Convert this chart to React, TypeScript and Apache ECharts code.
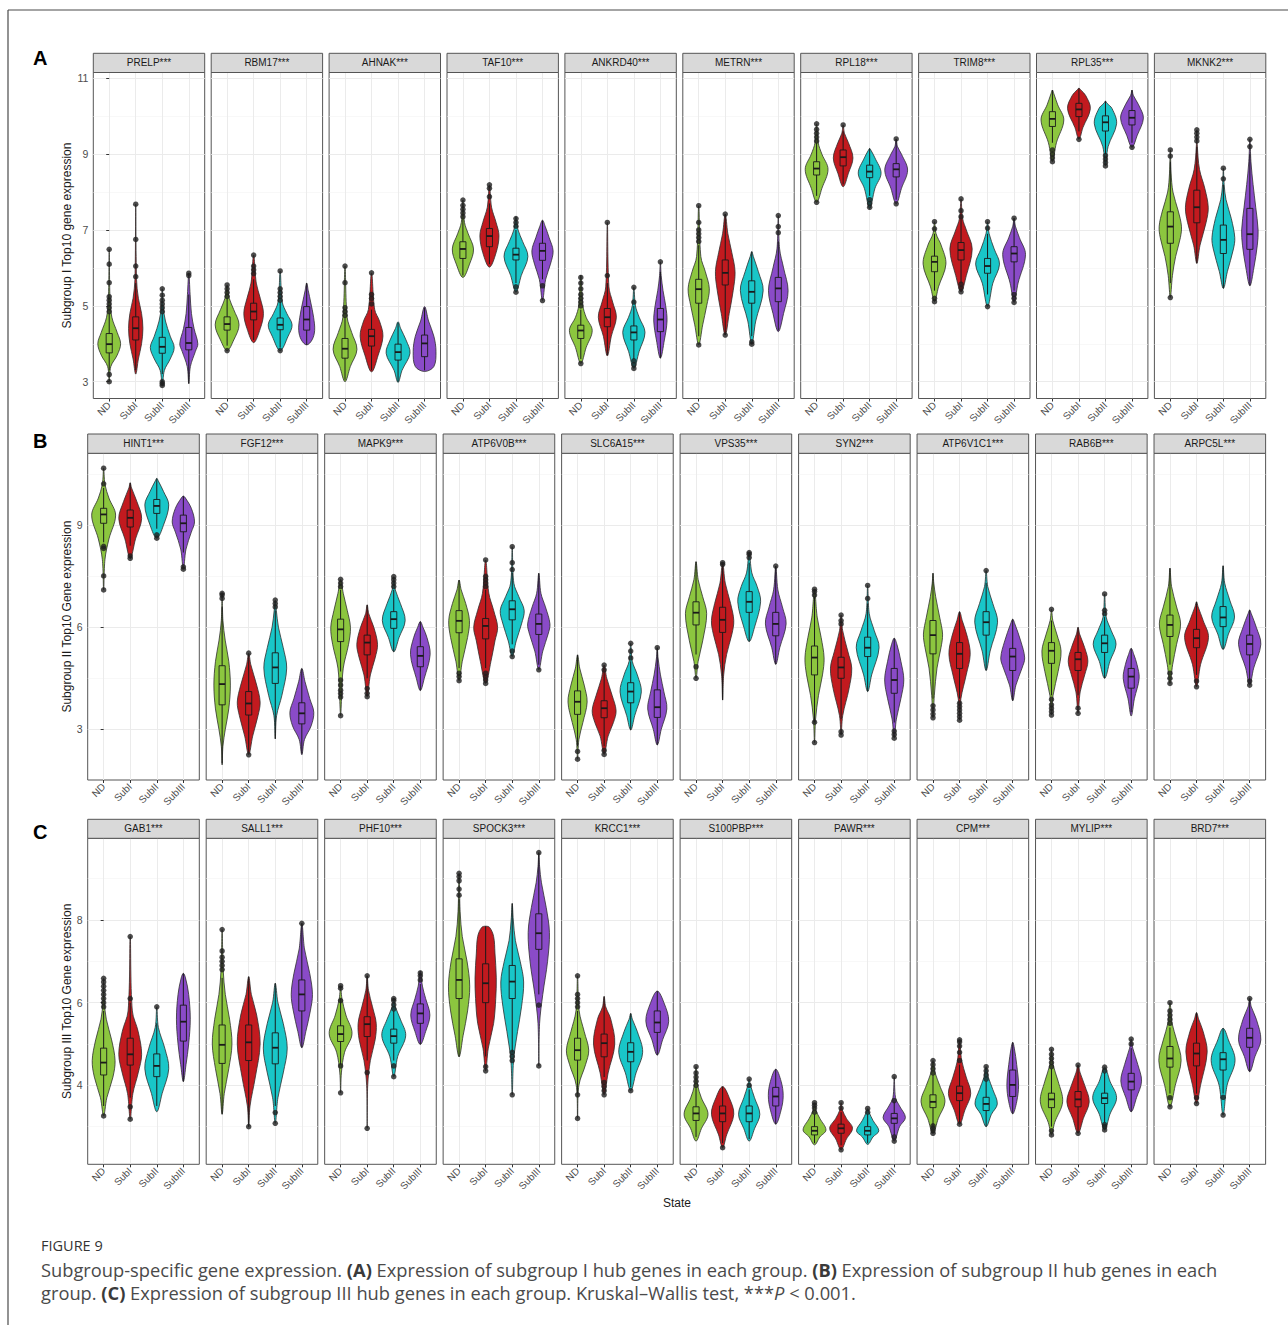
import React, { useEffect, useRef } from 'react';
import * as echarts from 'echarts';

// ---------- data ----------
const groups = ['ND', 'SubI', 'SubII', 'SubIII'];
const groupColors = ['#8cc63f', '#c21a1f', '#19c6c8', '#8a4bc8'];

// Violin outlines: [value, half-width in category units]; boxes: [whiskerLow, q1, median, q3, whiskerHigh]
const genesA = ['PRELP', 'RBM17', 'AHNAK', 'TAF10', 'ANKRD40', 'METRN', 'RPL18', 'TRIM8', 'RPL35', 'MKNK2'];
const shapesA = [
  [
    [[3.0, 0], [3.4, 0.06], [3.7, 0.3], [4.0, 0.43], [4.3, 0.3], [4.7, 0.1], [5.2, 0.03], [6.49, 0]],
    [[3.2, 0], [3.6, 0.1], [4.0, 0.22], [4.4, 0.27], [4.8, 0.22], [5.2, 0.1], [5.7, 0.03], [7.68, 0]],
    [[2.9, 0], [3.3, 0.08], [3.6, 0.3], [3.9, 0.45], [4.2, 0.3], [4.6, 0.12], [5.0, 0.03], [5.45, 0]],
    [[2.95, 0], [3.4, 0.06], [3.8, 0.25], [4.0, 0.34], [4.4, 0.2], [4.8, 0.1], [5.3, 0.05], [5.86, 0]],
  ],
  [
    [[3.82, 0], [4.1, 0.25], [4.5, 0.45], [4.9, 0.25], [5.2, 0.08], [5.55, 0]],
    [[4.03, 0], [4.4, 0.25], [4.8, 0.37], [5.2, 0.25], [5.6, 0.1], [6.34, 0]],
    [[3.82, 0], [4.2, 0.3], [4.5, 0.45], [4.8, 0.25], [5.1, 0.08], [5.92, 0]],
    [[3.97, 0], [4.1, 0.2], [4.35, 0.3], [4.7, 0.26], [5.1, 0.15], [5.4, 0.06], [5.6, 0]],
  ],
  [
    [[3.0, 0], [3.4, 0.2], [3.85, 0.45], [4.3, 0.25], [4.7, 0.08], [6.05, 0]],
    [[3.26, 0], [3.7, 0.25], [4.2, 0.43], [4.6, 0.3], [4.9, 0.12], [5.87, 0]],
    [[2.98, 0], [3.3, 0.15], [3.75, 0.45], [4.1, 0.3], [4.4, 0.1], [4.58, 0]],
    [[3.27, 0], [3.4, 0.35], [3.8, 0.43], [4.2, 0.35], [4.6, 0.15], [4.98, 0]],
  ],
  [
    [[5.75, 0], [6.1, 0.25], [6.5, 0.4], [6.9, 0.2], [7.2, 0.06], [7.79, 0]],
    [[6.02, 0], [6.4, 0.25], [6.85, 0.36], [7.2, 0.25], [7.6, 0.08], [8.19, 0]],
    [[5.36, 0], [5.8, 0.2], [6.3, 0.45], [6.7, 0.25], [7.0, 0.08], [7.35, 0]],
    [[5.14, 0], [5.7, 0.12], [6.1, 0.3], [6.45, 0.4], [6.8, 0.25], [7.1, 0.1], [7.26, 0]],
  ],
  [
    [[3.48, 0], [3.9, 0.2], [4.35, 0.43], [4.7, 0.2], [5.0, 0.08], [5.81, 0]],
    [[3.68, 0], [4.2, 0.15], [4.7, 0.34], [5.1, 0.2], [5.5, 0.06], [7.2, 0]],
    [[3.35, 0], [3.8, 0.2], [4.3, 0.42], [4.7, 0.2], [5.0, 0.06], [5.49, 0]],
    [[3.62, 0], [4.1, 0.15], [4.6, 0.25], [5.0, 0.2], [5.4, 0.1], [5.8, 0.03], [6.16, 0]],
  ],
  [
    [[3.97, 0], [4.5, 0.15], [5.0, 0.3], [5.45, 0.4], [5.9, 0.25], [6.3, 0.08], [7.64, 0]],
    [[4.23, 0], [4.8, 0.15], [5.4, 0.3], [5.9, 0.37], [6.4, 0.25], [6.9, 0.1], [7.42, 0]],
    [[3.99, 0], [4.6, 0.15], [5.4, 0.43], [5.9, 0.25], [6.3, 0.06], [6.43, 0]],
    [[4.32, 0], [4.8, 0.2], [5.4, 0.37], [6.0, 0.2], [6.5, 0.05], [7.38, 0]],
  ],
  [
    [[7.73, 0], [8.1, 0.2], [8.6, 0.43], [9.0, 0.2], [9.3, 0.06], [9.8, 0]],
    [[8.14, 0], [8.5, 0.2], [8.9, 0.37], [9.3, 0.2], [9.55, 0.05], [9.77, 0]],
    [[7.57, 0], [8.1, 0.2], [8.5, 0.43], [8.9, 0.2], [9.1, 0.05], [9.15, 0]],
    [[7.69, 0], [8.1, 0.2], [8.58, 0.43], [9.0, 0.2], [9.2, 0.05], [9.4, 0]],
  ],
  [
    [[5.11, 0], [5.5, 0.15], [6.1, 0.43], [6.6, 0.25], [6.9, 0.06], [7.22, 0]],
    [[5.37, 0], [5.8, 0.2], [6.5, 0.42], [7.0, 0.2], [7.3, 0.06], [7.82, 0]],
    [[4.98, 0], [5.6, 0.2], [6.1, 0.45], [6.5, 0.25], [6.9, 0.06], [7.22, 0]],
    [[5.09, 0], [5.6, 0.15], [6.35, 0.43], [6.8, 0.2], [7.1, 0.05], [7.31, 0]],
  ],
  [
    [[8.8, 0], [9.3, 0.15], [9.9, 0.43], [10.3, 0.2], [10.6, 0.05], [10.69, 0]],
    [[9.39, 0], [9.7, 0.15], [10.2, 0.43], [10.55, 0.25], [10.7, 0.06], [10.74, 0]],
    [[8.69, 0], [9.2, 0.1], [9.8, 0.42], [10.2, 0.25], [10.35, 0.05], [10.4, 0]],
    [[9.18, 0], [9.5, 0.2], [9.95, 0.43], [10.3, 0.25], [10.55, 0.05], [10.69, 0]],
  ],
  [
    [[5.22, 0], [5.8, 0.08], [6.3, 0.2], [6.8, 0.38], [7.1, 0.42], [7.5, 0.3], [8.0, 0.1], [8.5, 0.03], [9.11, 0]],
    [[6.12, 0], [6.6, 0.12], [7.2, 0.35], [7.6, 0.43], [8.1, 0.3], [8.6, 0.1], [9.2, 0.02], [9.64, 0]],
    [[5.46, 0], [5.9, 0.15], [6.5, 0.38], [6.8, 0.43], [7.3, 0.3], [7.8, 0.1], [8.2, 0.03], [8.63, 0]],
    [[5.53, 0], [6.0, 0.15], [6.6, 0.28], [7.0, 0.31], [7.6, 0.22], [8.2, 0.12], [8.8, 0.04], [9.39, 0]],
  ],
];
const boxesA = [
  [[3.3, 3.76, 3.99, 4.27, 4.8], [3.3, 4.1, 4.41, 4.71, 5.6], [3.2, 3.75, 3.92, 4.17, 4.8], [2.95, 3.84, 4.02, 4.43, 5.3]],
  [[3.95, 4.36, 4.52, 4.71, 5.2], [4.1, 4.63, 4.85, 5.07, 5.7], [3.9, 4.37, 4.5, 4.68, 5.1], [3.97, 4.36, 4.64, 4.98, 5.6]],
  [[3.05, 3.62, 3.87, 4.14, 4.7], [3.3, 3.94, 4.2, 4.38, 4.9], [3.0, 3.57, 3.78, 3.99, 4.55], [3.3, 3.66, 4.01, 4.23, 4.95]],
  [[5.8, 6.25, 6.5, 6.69, 7.3], [6.1, 6.56, 6.84, 7.04, 7.7], [5.6, 6.21, 6.35, 6.52, 7.0], [5.7, 6.2, 6.45, 6.65, 7.25]],
  [[3.6, 4.14, 4.35, 4.49, 4.9], [3.7, 4.45, 4.7, 4.93, 5.6], [3.6, 4.1, 4.3, 4.47, 5.0], [3.62, 4.32, 4.64, 4.93, 5.9]],
  [[4.2, 5.07, 5.44, 5.7, 6.6], [4.23, 5.55, 5.87, 6.21, 7.42], [4.2, 5.07, 5.37, 5.66, 6.43], [4.35, 5.11, 5.46, 5.75, 6.7]],
  [[7.9, 8.45, 8.62, 8.8, 9.3], [8.2, 8.69, 8.92, 9.11, 9.6], [7.9, 8.38, 8.54, 8.71, 9.15], [7.8, 8.4, 8.6, 8.75, 9.4]],
  [[5.4, 5.9, 6.16, 6.31, 6.9], [5.6, 6.21, 6.47, 6.67, 7.3], [5.3, 5.86, 6.05, 6.25, 6.9], [5.4, 6.16, 6.38, 6.56, 7.31]],
  [[9.3, 9.73, 9.93, 10.12, 10.69], [9.6, 9.99, 10.18, 10.34, 10.74], [9.0, 9.61, 9.84, 10.01, 10.4], [9.3, 9.77, 9.96, 10.15, 10.69]],
  [[5.6, 6.65, 7.09, 7.48, 8.8], [6.12, 7.19, 7.6, 8.05, 9.2], [5.46, 6.38, 6.74, 7.13, 8.2], [5.53, 6.49, 6.89, 7.57, 9.0]],
];
const outliersA = [
  [[3.0, 3.19, 4.85, 4.95, 5.05, 5.15, 5.24, 5.61, 6.1, 6.49], [5.77, 6.05, 6.75, 7.68], [2.9, 2.95, 3.0, 4.85, 4.95, 5.05, 5.15, 5.28, 5.45], [5.8, 5.86]],
  [[3.82, 5.25, 5.35, 5.45, 5.55], [5.85, 5.95, 6.05, 6.34], [3.82, 5.15, 5.25, 5.35, 5.45, 5.92], []],
  [[4.75, 4.85, 4.95, 5.61, 6.05], [5.05, 5.2, 5.3, 5.87], [], []],
  [[7.35, 7.45, 7.55, 7.65, 7.79], [7.88, 8.1, 8.19], [5.36, 5.5, 7.1, 7.2, 7.3], [5.14, 5.53]],
  [[3.48, 5.0, 5.1, 5.2, 5.3, 5.45, 5.6, 5.75], [5.8, 7.2], [3.35, 3.45, 3.55, 5.1, 5.49], [6.16]],
  [[3.97, 6.7, 6.8, 6.9, 7.0, 7.2, 7.64], [4.23, 7.42], [3.99, 4.05], [6.93, 7.09, 7.38]],
  [[7.73, 9.35, 9.45, 9.55, 9.65, 9.8], [9.77], [7.6, 7.7, 7.8], [7.69, 9.4]],
  [[5.11, 5.2, 7.03, 7.22], [5.37, 5.47, 5.57, 7.35, 7.51, 7.82], [4.98, 7.05, 7.22], [5.09, 5.2, 5.3, 7.31]],
  [[8.8, 8.9, 9.0, 9.11], [9.39], [8.69, 8.78, 8.87, 8.96], [9.18]],
  [[5.22, 8.95, 9.11], [9.35, 9.45, 9.55, 9.64], [8.35, 8.63], [9.2, 9.39]],
];

const genesB = ['HINT1', 'FGF12', 'MAPK9', 'ATP6V0B', 'SLC6A15', 'VPS35', 'SYN2', 'ATP6V1C1', 'RAB6B', 'ARPC5L'];
const shapesB = [
  [
    [[7.1, 0], [8.0, 0.05], [8.6, 0.2], [9.3, 0.45], [9.8, 0.2], [10.2, 0.05], [10.68, 0]],
    [[8.03, 0], [8.6, 0.2], [9.2, 0.43], [9.7, 0.25], [10.1, 0.05], [10.25, 0]],
    [[8.62, 0], [9.0, 0.25], [9.6, 0.45], [10.0, 0.25], [10.3, 0.06], [10.38, 0]],
    [[7.71, 0], [8.3, 0.1], [8.8, 0.3], [9.1, 0.42], [9.5, 0.3], [9.8, 0.08], [9.86, 0]],
  ],
  [
    [[1.95, 0], [2.5, 0.03], [3.0, 0.12], [3.6, 0.25], [4.3, 0.31], [5.0, 0.25], [5.6, 0.12], [6.2, 0.03], [7.0, 0]],
    [[2.25, 0], [2.8, 0.15], [3.4, 0.35], [3.8, 0.43], [4.3, 0.3], [4.9, 0.08], [5.24, 0]],
    [[2.72, 0], [3.4, 0.05], [4.0, 0.25], [4.8, 0.43], [5.4, 0.3], [6.0, 0.12], [6.5, 0.04], [6.8, 0]],
    [[2.25, 0], [2.7, 0.1], [3.1, 0.35], [3.5, 0.45], [3.9, 0.3], [4.4, 0.12], [4.79, 0]],
  ],
  [
    [[3.4, 0], [4.0, 0.04], [4.8, 0.1], [5.5, 0.3], [6.0, 0.37], [6.5, 0.25], [7.0, 0.1], [7.41, 0]],
    [[3.96, 0], [4.6, 0.12], [5.1, 0.3], [5.5, 0.39], [6.0, 0.25], [6.4, 0.06], [6.66, 0]],
    [[5.28, 0], [5.7, 0.2], [6.2, 0.43], [6.7, 0.25], [7.1, 0.06], [7.49, 0]],
    [[4.14, 0], [4.5, 0.15], [5.2, 0.37], [5.7, 0.25], [6.0, 0.1], [6.17, 0]],
  ],
  [
    [[4.43, 0], [5.0, 0.12], [5.7, 0.32], [6.2, 0.39], [6.7, 0.25], [7.1, 0.08], [7.39, 0]],
    [[4.35, 0], [5.0, 0.2], [5.6, 0.35], [6.0, 0.45], [6.5, 0.3], [7.0, 0.12], [7.98, 0]],
    [[5.14, 0], [5.6, 0.15], [6.1, 0.35], [6.5, 0.45], [6.9, 0.25], [7.3, 0.06], [8.37, 0]],
    [[4.75, 0], [5.3, 0.15], [5.8, 0.35], [6.1, 0.42], [6.6, 0.25], [7.0, 0.08], [7.59, 0]],
  ],
  [
    [[2.12, 0], [2.7, 0.05], [3.2, 0.2], [3.8, 0.36], [4.3, 0.25], [4.8, 0.08], [5.19, 0]],
    [[2.26, 0], [2.8, 0.15], [3.2, 0.35], [3.55, 0.45], [4.0, 0.3], [4.5, 0.1], [4.89, 0]],
    [[2.98, 0], [3.4, 0.15], [4.1, 0.4], [4.6, 0.25], [5.0, 0.06], [5.53, 0]],
    [[2.54, 0], [3.0, 0.15], [3.6, 0.36], [4.1, 0.25], [4.6, 0.12], [5.1, 0.03], [5.4, 0]],
  ],
  [
    [[4.5, 0], [5.0, 0.08], [5.6, 0.25], [6.4, 0.4], [6.9, 0.25], [7.4, 0.08], [7.93, 0]],
    [[3.86, 0], [4.6, 0.04], [5.2, 0.15], [5.8, 0.35], [6.2, 0.42], [6.7, 0.3], [7.3, 0.1], [7.9, 0]],
    [[5.58, 0], [6.0, 0.2], [6.75, 0.43], [7.2, 0.3], [7.6, 0.1], [8.2, 0]],
    [[4.91, 0], [5.4, 0.15], [6.1, 0.39], [6.6, 0.25], [7.1, 0.08], [7.8, 0]],
  ],
  [
    [[2.61, 0], [3.3, 0.04], [4.0, 0.15], [4.6, 0.3], [5.1, 0.36], [5.7, 0.25], [6.3, 0.1], [7.12, 0]],
    [[2.83, 0], [3.4, 0.06], [4.2, 0.3], [4.8, 0.4], [5.3, 0.25], [5.9, 0.06], [6.36, 0]],
    [[4.11, 0], [4.6, 0.15], [5.4, 0.43], [5.9, 0.25], [6.4, 0.06], [7.23, 0]],
    [[2.74, 0], [3.3, 0.08], [3.9, 0.25], [4.45, 0.36], [5.0, 0.25], [5.5, 0.1], [5.68, 0]],
  ],
  [
    [[3.34, 0], [4.0, 0.05], [4.8, 0.15], [5.4, 0.3], [5.8, 0.36], [6.3, 0.25], [6.9, 0.1], [7.3, 0.03], [7.59, 0]],
    [[3.27, 0], [3.9, 0.05], [4.6, 0.25], [5.2, 0.4], [5.7, 0.3], [6.2, 0.1], [6.46, 0]],
    [[4.73, 0], [5.3, 0.15], [6.15, 0.43], [6.7, 0.25], [7.2, 0.06], [7.67, 0]],
    [[3.84, 0], [4.3, 0.12], [4.8, 0.35], [5.1, 0.45], [5.6, 0.3], [6.1, 0.08], [6.24, 0]],
  ],
  [
    [[3.42, 0], [4.0, 0.06], [4.7, 0.25], [5.3, 0.36], [5.8, 0.2], [6.2, 0.05], [6.53, 0]],
    [[3.47, 0], [4.1, 0.08], [4.6, 0.25], [5.0, 0.37], [5.4, 0.25], [5.8, 0.06], [6.0, 0]],
    [[4.5, 0], [5.0, 0.2], [5.5, 0.43], [5.9, 0.25], [6.3, 0.06], [6.98, 0]],
    [[3.39, 0], [3.9, 0.12], [4.5, 0.3], [4.9, 0.22], [5.2, 0.1], [5.38, 0]],
  ],
  [
    [[4.35, 0], [4.9, 0.1], [5.5, 0.25], [6.1, 0.4], [6.6, 0.25], [7.2, 0.06], [7.74, 0]],
    [[4.25, 0], [4.9, 0.15], [5.7, 0.45], [6.2, 0.25], [6.6, 0.06], [6.75, 0]],
    [[5.35, 0], [5.8, 0.2], [6.3, 0.43], [6.8, 0.25], [7.3, 0.06], [7.81, 0]],
    [[4.3, 0], [4.8, 0.15], [5.5, 0.42], [6.0, 0.25], [6.4, 0.06], [6.51, 0]],
  ],
];
const boxesB = [
  [[8.5, 9.06, 9.32, 9.5, 10.1], [8.4, 8.95, 9.22, 9.45, 10.25], [8.9, 9.35, 9.57, 9.76, 10.38], [8.2, 8.81, 9.06, 9.3, 9.86]],
  [[2.0, 3.72, 4.33, 4.87, 6.6], [2.3, 3.42, 3.76, 4.11, 5.2], [2.72, 4.35, 4.82, 5.25, 6.5], [2.29, 3.16, 3.47, 3.78, 4.79]],
  [[4.7, 5.58, 5.94, 6.24, 7.1], [4.5, 5.19, 5.55, 5.77, 6.66], [5.28, 5.97, 6.24, 6.46, 7.1], [4.14, 4.84, 5.16, 5.43, 6.17]],
  [[4.8, 5.84, 6.19, 6.49, 7.39], [4.8, 5.66, 6.04, 6.26, 7.1], [5.5, 6.22, 6.53, 6.78, 7.6], [4.9, 5.79, 6.1, 6.39, 7.59]],
  [[2.5, 3.44, 3.81, 4.13, 5.19], [2.5, 3.34, 3.62, 3.84, 4.7], [2.98, 3.78, 4.11, 4.37, 5.0], [2.54, 3.35, 3.65, 4.16, 5.4]],
  [[5.2, 6.07, 6.43, 6.75, 7.93], [3.86, 5.85, 6.22, 6.59, 7.8], [5.58, 6.44, 6.75, 7.05, 7.9], [4.91, 5.75, 6.1, 6.44, 7.8]],
  [[3.2, 4.6, 5.11, 5.45, 6.9], [3.3, 4.5, 4.82, 5.12, 6.0], [4.11, 5.14, 5.4, 5.71, 6.7], [3.2, 4.06, 4.45, 4.79, 5.68]],
  [[3.9, 5.22, 5.77, 6.2, 7.59], [3.9, 4.79, 5.22, 5.55, 6.46], [4.73, 5.77, 6.15, 6.46, 7.3], [3.84, 4.73, 5.14, 5.38, 6.24]],
  [[4.0, 4.94, 5.31, 5.55, 6.2], [4.0, 4.73, 5.06, 5.26, 6.0], [4.5, 5.26, 5.53, 5.77, 6.3], [3.5, 4.21, 4.55, 4.79, 5.38]],
  [[4.9, 5.73, 6.07, 6.36, 7.74], [4.6, 5.4, 5.68, 5.94, 6.75], [5.35, 6.02, 6.29, 6.61, 7.81], [4.4, 5.19, 5.51, 5.77, 6.51]],
];
const outliersB = [
  [[7.1, 7.51, 8.32, 8.38, 10.22, 10.68], [8.03, 8.1], [8.62, 8.72], [7.71, 7.78]],
  [[6.85, 6.95, 7.0], [2.25, 5.24], [6.6, 6.7, 6.8], []],
  [[3.4, 3.95, 4.05, 4.15, 4.3, 4.45, 7.2, 7.3, 7.41], [3.96, 4.06, 4.2], [7.2, 7.3, 7.4, 7.49], []],
  [[4.43, 4.55, 4.65], [4.35, 4.45, 4.55, 4.65, 7.2, 7.3, 7.4, 7.5, 7.98], [5.14, 5.3, 7.7, 7.9, 8.37], [4.75]],
  [[2.12, 2.35], [2.26, 2.38, 4.75, 4.89], [5.1, 5.3, 5.53], [5.4]],
  [[4.5, 4.84], [7.85, 7.9], [8.05, 8.15, 8.2], [7.8]],
  [[2.61, 3.21, 6.95, 7.05, 7.12], [2.83, 2.93, 6.1, 6.2, 6.36], [6.85, 7.23], [2.74, 2.85, 2.95]],
  [[3.34, 3.45, 3.57, 3.69], [3.27, 3.37, 3.47, 3.57, 3.67, 3.77], [7.67], []],
  [[3.42, 3.52, 3.62, 3.72, 3.88, 6.53], [3.47, 3.62], [6.4, 6.5, 6.98], []],
  [[4.35, 4.5, 4.65], [4.25, 4.42], [], [4.3, 4.42]],
];

const genesC = ['GAB1', 'SALL1', 'PHF10', 'SPOCK3', 'KRCC1', 'S100PBP', 'PAWR', 'CPM', 'MYLIP', 'BRD7'];
const shapesC = [
  [
    [[3.26, 0], [3.7, 0.12], [4.2, 0.35], [4.6, 0.43], [5.1, 0.3], [5.6, 0.1], [6.0, 0.03], [6.59, 0]],
    [[3.18, 0], [3.8, 0.1], [4.3, 0.3], [4.75, 0.43], [5.3, 0.3], [5.8, 0.08], [7.6, 0]],
    [[3.36, 0], [3.8, 0.2], [4.4, 0.45], [4.9, 0.3], [5.4, 0.06], [5.9, 0]],
    [[4.09, 0], [4.5, 0.1], [5.0, 0.2], [5.6, 0.26], [6.2, 0.2], [6.6, 0.08], [6.71, 0]],
  ],
  [
    [[3.3, 0], [3.8, 0.08], [4.4, 0.25], [5.0, 0.37], [5.6, 0.28], [6.2, 0.12], [6.8, 0.04], [7.77, 0]],
    [[3.0, 0], [3.5, 0.05], [4.2, 0.25], [5.0, 0.43], [5.7, 0.3], [6.2, 0.1], [6.63, 0]],
    [[3.08, 0], [3.7, 0.1], [4.3, 0.3], [4.9, 0.45], [5.5, 0.3], [6.0, 0.1], [6.47, 0]],
    [[4.91, 0], [5.3, 0.15], [5.8, 0.32], [6.2, 0.4], [6.7, 0.3], [7.3, 0.1], [7.92, 0]],
  ],
  [
    [[3.82, 0], [4.3, 0.03], [4.8, 0.15], [5.25, 0.43], [5.7, 0.2], [6.1, 0.05], [6.41, 0]],
    [[2.96, 0], [4.0, 0.02], [4.6, 0.12], [5.1, 0.3], [5.5, 0.34], [5.9, 0.2], [6.3, 0.05], [6.65, 0]],
    [[4.21, 0], [4.7, 0.15], [5.2, 0.45], [5.6, 0.25], [5.9, 0.06], [6.1, 0]],
    [[4.99, 0], [5.3, 0.2], [5.7, 0.36], [6.1, 0.2], [6.4, 0.08], [6.77, 0]],
  ],
  [
    [[4.69, 0], [5.2, 0.15], [5.8, 0.32], [6.4, 0.4], [7.0, 0.3], [7.6, 0.12], [8.2, 0.04], [9.13, 0]],
    [[4.35, 0], [4.9, 0.1], [5.5, 0.3], [6.1, 0.38], [6.6, 0.4], [7.2, 0.35], [7.6, 0.3], [7.82, 0.15], [7.85, 0]],
    [[3.77, 0], [4.6, 0.05], [5.3, 0.2], [5.9, 0.35], [6.5, 0.43], [7.0, 0.3], [7.5, 0.12], [8.0, 0.04], [8.4, 0]],
    [[4.47, 0], [5.5, 0.03], [6.2, 0.15], [7.0, 0.33], [7.7, 0.4], [8.3, 0.28], [8.9, 0.1], [9.3, 0.03], [9.63, 0]],
  ],
  [
    [[3.2, 0], [4.0, 0.05], [4.5, 0.3], [4.85, 0.42], [5.3, 0.25], [5.8, 0.06], [6.65, 0]],
    [[3.77, 0], [4.3, 0.15], [5.0, 0.4], [5.6, 0.25], [5.9, 0.06], [6.15, 0]],
    [[3.87, 0], [4.3, 0.2], [4.8, 0.45], [5.3, 0.25], [5.6, 0.06], [5.74, 0]],
    [[4.73, 0], [5.1, 0.2], [5.55, 0.43], [6.0, 0.25], [6.28, 0]],
  ],
  [
    [[2.65, 0], [2.95, 0.2], [3.3, 0.45], [3.7, 0.2], [4.0, 0.06], [4.45, 0]],
    [[2.49, 0], [2.8, 0.15], [3.3, 0.42], [3.7, 0.25], [3.97, 0]],
    [[2.65, 0], [2.95, 0.2], [3.3, 0.4], [3.7, 0.2], [4.0, 0.05], [4.15, 0]],
    [[3.06, 0], [3.4, 0.2], [3.75, 0.28], [4.1, 0.2], [4.39, 0]],
  ],
  [
    [[2.56, 0], [2.75, 0.2], [2.92, 0.43], [3.2, 0.2], [3.4, 0.05], [3.58, 0]],
    [[2.44, 0], [2.7, 0.2], [2.96, 0.43], [3.2, 0.2], [3.4, 0.05], [3.58, 0]],
    [[2.57, 0], [2.75, 0.2], [2.9, 0.42], [3.15, 0.2], [3.35, 0.05], [3.44, 0]],
    [[2.65, 0], [3.0, 0.2], [3.22, 0.42], [3.5, 0.2], [3.7, 0.05], [4.21, 0]],
  ],
  [
    [[2.84, 0], [3.2, 0.2], [3.6, 0.45], [4.0, 0.25], [4.3, 0.08], [4.6, 0]],
    [[3.06, 0], [3.4, 0.2], [3.8, 0.42], [4.2, 0.25], [4.6, 0.08], [5.1, 0]],
    [[3.0, 0], [3.3, 0.2], [3.55, 0.42], [3.9, 0.25], [4.2, 0.08], [4.45, 0]],
    [[3.31, 0], [3.6, 0.15], [4.0, 0.22], [4.5, 0.15], [4.9, 0.06], [5.04, 0]],
  ],
  [
    [[2.8, 0], [3.1, 0.12], [3.6, 0.42], [4.1, 0.25], [4.5, 0.06], [4.87, 0]],
    [[2.84, 0], [3.2, 0.2], [3.6, 0.42], [4.0, 0.25], [4.3, 0.08], [4.49, 0]],
    [[2.92, 0], [3.3, 0.2], [3.7, 0.45], [4.1, 0.2], [4.44, 0]],
    [[3.36, 0], [3.7, 0.2], [4.1, 0.39], [4.5, 0.25], [4.9, 0.06], [5.12, 0]],
  ],
  [
    [[3.48, 0], [4.0, 0.2], [4.6, 0.42], [5.1, 0.25], [5.5, 0.08], [6.0, 0]],
    [[3.56, 0], [4.0, 0.15], [4.8, 0.4], [5.3, 0.25], [5.6, 0.08], [5.76, 0]],
    [[3.28, 0], [4.0, 0.15], [4.6, 0.45], [5.1, 0.2], [5.38, 0]],
    [[4.33, 0], [4.7, 0.2], [5.1, 0.42], [5.6, 0.25], [5.9, 0.06], [6.1, 0]],
  ],
];
const boxesC = [
  [[3.5, 4.25, 4.55, 4.9, 5.8], [3.7, 4.49, 4.75, 5.14, 6.0], [3.5, 4.21, 4.47, 4.76, 5.5], [4.09, 5.07, 5.54, 5.94, 6.71]],
  [[3.3, 4.53, 4.98, 5.46, 6.6], [3.0, 4.6, 5.04, 5.46, 6.63], [3.5, 4.52, 4.91, 5.27, 6.47], [4.91, 5.8, 6.2, 6.55, 7.92]],
  [[4.5, 5.06, 5.24, 5.44, 6.1], [4.6, 5.18, 5.48, 5.66, 6.65], [4.6, 5.02, 5.19, 5.36, 5.8], [4.99, 5.5, 5.74, 5.97, 6.45]],
  [[4.69, 6.1, 6.55, 7.06, 8.5], [4.7, 6.0, 6.47, 6.94, 7.85], [4.8, 6.1, 6.51, 6.9, 8.4], [6.2, 7.29, 7.68, 8.15, 9.63]],
  [[3.8, 4.61, 4.85, 5.14, 5.8], [4.2, 4.69, 5.02, 5.24, 6.15], [3.95, 4.57, 4.81, 5.03, 5.74], [4.73, 5.28, 5.52, 5.8, 6.28]],
  [[2.75, 3.15, 3.32, 3.48, 3.95], [2.6, 3.12, 3.32, 3.5, 3.97], [2.7, 3.12, 3.32, 3.5, 3.9], [3.06, 3.5, 3.73, 3.95, 4.39]],
  [[2.6, 2.8, 2.9, 3.0, 3.3], [2.55, 2.84, 2.96, 3.06, 3.35], [2.6, 2.8, 2.9, 3.0, 3.3], [2.8, 3.08, 3.2, 3.32, 3.6]],
  [[3.0, 3.46, 3.6, 3.77, 4.25], [3.1, 3.63, 3.81, 3.98, 4.5], [3.0, 3.39, 3.55, 3.71, 4.1], [3.31, 3.73, 4.01, 4.37, 5.04]],
  [[3.0, 3.46, 3.66, 3.81, 4.4], [2.9, 3.48, 3.66, 3.85, 4.49], [3.1, 3.56, 3.69, 3.81, 4.3], [3.36, 3.89, 4.09, 4.29, 4.9]],
  [[3.8, 4.44, 4.65, 4.94, 5.4], [3.8, 4.47, 4.77, 5.02, 5.76], [3.8, 4.37, 4.63, 4.79, 5.38], [4.33, 4.92, 5.15, 5.38, 6.1]],
];
const outliersC = [
  [[3.26, 5.9, 6.0, 6.1, 6.2, 6.3, 6.4, 6.5, 6.59], [3.18, 3.48, 6.1, 7.6], [5.9], []],
  [[6.8, 6.9, 7.0, 7.1, 7.25, 7.77], [3.0], [3.08, 3.34], [7.92]],
  [[3.82, 4.47, 6.05, 6.35, 6.41], [2.96, 4.31, 6.65], [4.21, 4.47, 5.85, 5.95, 6.05, 6.1], [6.55, 6.65, 6.72]],
  [[8.6, 8.75, 8.95, 9.05, 9.13], [4.35, 4.45], [3.77, 4.6, 4.7, 4.8], [4.47, 5.94, 9.63]],
  [[3.2, 3.77, 5.9, 6.0, 6.1, 6.2, 6.65], [3.77, 3.87, 3.97, 4.07], [3.87], []],
  [[4.0, 4.1, 4.2, 4.3, 4.45], [2.49], [4.0, 4.15], []],
  [[3.35, 3.45, 3.52, 3.58], [2.44, 3.45, 3.58], [3.35, 3.44], [2.65, 2.75, 3.63, 4.21]],
  [[2.84, 2.9, 2.96, 3.02, 4.3, 4.4, 4.5, 4.6], [3.06, 4.6, 4.8, 4.95, 5.05, 5.1], [4.15, 4.25, 4.35, 4.45], []],
  [[2.8, 2.9, 4.45, 4.55, 4.65, 4.75, 4.87], [2.84, 4.49], [2.92, 3.0, 3.05, 4.35, 4.44], [5.0, 5.12]],
  [[3.48, 3.7, 5.5, 5.6, 5.7, 5.8, 6.0], [3.56, 3.7], [3.28, 3.71], [6.1]],
];

const ticksA = [3, 5, 7, 9, 11];
const minorTicksA = [4, 6, 8, 10];
const ticksB = [3, 6, 9];
const minorTicksB = [4.5, 7.5, 10.5];
const ticksC = [4, 6, 8];
const minorTicksC = [3, 5, 7, 9];

// ---------- layout ----------
const FONT = '"Liberation Sans", Arial, Helvetica, sans-serif';
const CAPTION_FONT = '"Open Sans", "Noto Sans", sans-serif';
const CAPTION_SIZE = 18.3;

const rows = [
  {
    letter: 'A', title: 'Subgroup I Top10 gene expression',
    genes: genesA, shapes: shapesA, boxes: boxesA, outliers: outliersA,
    ticks: ticksA, minor: minorTicksA, yMin: 2.557, yMax: 11.153,
    left: 93.3, pitch: 117.9, width: 111.4, top: 72.5, height: 326, stripH: 19.2, letterY: 58,
  },
  {
    letter: 'B', title: 'Subgroup II Top10 Gene expression',
    genes: genesB, shapes: shapesB, boxes: boxesB, outliers: outliersB,
    ticks: ticksB, minor: minorTicksB, yMin: 1.509, yMax: 11.118,
    left: 87.7, pitch: 118.48, width: 111.6, top: 453.3, height: 326.7, stripH: 19.3, letterY: 441,
  },
  {
    letter: 'C', title: 'Subgroup III Top10 Gene expression',
    genes: genesC, shapes: shapesC, boxes: boxesC, outliers: outliersC,
    ticks: ticksC, minor: minorTicksC, yMin: 2.089, yMax: 9.977,
    left: 87.7, pitch: 118.48, width: 111.6, top: 838.3, height: 326, stripH: 19, letterY: 832,
  },
];

const BOX_HALF = 0.115;

function makeViolinRenderer(shapes: number[][][], boxes: number[][]) {
  return (params: any, api: any) => {
    const k = params.dataIndex;
    const outline = shapes[k];
    const [wlo, q1, med, q3, whi] = boxes[k];
    const right = outline.map(([v, w]) => api.coord([k + w, v]));
    const leftSide = outline.slice().reverse().map(([v, w]) => api.coord([k - w, v]));
    const points = right.concat(leftSide.slice(1, leftSide.length - 1));
    const c = api.coord([k, med]);
    const pLo = api.coord([k, wlo]);
    const pHi = api.coord([k, whi]);
    const pQ1 = api.coord([k - BOX_HALF, q1]);
    const pQ3 = api.coord([k + BOX_HALF, q3]);
    const mL = api.coord([k - BOX_HALF, med]);
    const mR = api.coord([k + BOX_HALF, med]);
    const ink = '#1a1a1a';
    return {
      type: 'group',
      children: [
        {
          type: 'polygon',
          shape: { points, smooth: 0.35 },
          style: { fill: groupColors[k], stroke: '#2e2e2e', lineWidth: 0.8 },
        },
        { type: 'line', shape: { x1: c[0], y1: pLo[1], x2: c[0], y2: pQ1[1] }, style: { stroke: ink, lineWidth: 1 } },
        { type: 'line', shape: { x1: c[0], y1: pQ3[1], x2: c[0], y2: pHi[1] }, style: { stroke: ink, lineWidth: 1 } },
        {
          type: 'rect',
          shape: { x: pQ1[0], y: pQ3[1], width: pQ3[0] - pQ1[0], height: pQ1[1] - pQ3[1] },
          style: { fill: 'rgba(0,0,0,0)', stroke: ink, lineWidth: 0.9 },
        },
        { type: 'line', shape: { x1: mL[0], y1: mL[1], x2: mR[0], y2: mR[1] }, style: { stroke: ink, lineWidth: 1.8 } },
      ],
    };
  };
}

function buildOption() {
  const grid: any[] = [];
  const xAxis: any[] = [];
  const yAxis: any[] = [];
  const series: any[] = [];
  const graphic: any[] = [];

  rows.forEach((row, r) => {
    row.genes.forEach((gene, g) => {
      const p = r * 10 + g;
      const left = row.left + g * row.pitch;
      const first = g === 0;
      grid.push({
        left, top: row.top, width: row.width, height: row.height,
        show: true, backgroundColor: '#ffffff', borderColor: '#555555', borderWidth: 1,
      });
      xAxis.push({
        type: 'value', gridIndex: p, min: -0.6, max: 3.6,
        axisLine: { show: false },
        axisTick: { show: true, customValues: [0, 1, 2, 3], length: 3, lineStyle: { color: '#333333' } },
        axisLabel: {
          customValues: [0, 1, 2, 3],
          formatter: (v: number) => groups[Math.round(v)],
          rotate: 45, fontSize: 10, color: '#4d4d4d', margin: 5, fontFamily: FONT,
        },
        splitLine: { show: true, lineStyle: { color: '#ebebeb', width: 1 } },
      });
      yAxis.push({
        type: 'value', gridIndex: p, min: row.yMin, max: row.yMax,
        axisLine: { show: false },
        axisTick: { show: first, customValues: row.ticks, length: 3, lineStyle: { color: '#333333' } },
        axisLabel: { show: first, customValues: row.ticks, fontSize: 10.5, color: '#4d4d4d', margin: 5, fontFamily: FONT },
        splitLine: { show: true, lineStyle: { color: '#ebebeb', width: 1 } },
      });
      yAxis.push({
        type: 'value', gridIndex: p, min: row.yMin, max: row.yMax,
        axisLine: { show: false },
        axisTick: { show: false, customValues: row.minor },
        axisLabel: { show: false, customValues: row.minor },
        splitLine: { show: true, lineStyle: { color: '#f4f4f4', width: 0.6 } },
      });
      series.push({
        type: 'custom', xAxisIndex: p, yAxisIndex: 2 * p, silent: true, z: 2,
        data: row.boxes[g].map((b, k) => [k, b[2]]),
        renderItem: makeViolinRenderer(row.shapes[g], row.boxes[g]),
      });
      const pts: number[][] = [];
      row.outliers[g].forEach((vals, k) => vals.forEach((v) => pts.push([k, v])));
      series.push({
        type: 'scatter', xAxisIndex: p, yAxisIndex: 2 * p, silent: true, z: 3,
        symbol: 'circle', symbolSize: 5.5, data: pts,
        itemStyle: { color: '#1f1f1f' },
      });
      // facet strip
      graphic.push({
        type: 'rect', silent: true, z: 10,
        shape: { x: left, y: row.top - row.stripH, width: row.width, height: row.stripH },
        style: { fill: '#d9d9d9', stroke: '#555555', lineWidth: 1 },
      });
      graphic.push({
        type: 'text', silent: true, z: 11,
        x: left + row.width / 2, y: row.top - row.stripH / 2,
        style: {
          text: gene + '***', fontSize: 10, fontFamily: FONT, fill: '#1a1a1a',
          align: 'center', verticalAlign: 'middle',
        },
      });
    });
    // row letter and y title
    graphic.push({
      type: 'text', silent: true, x: 33, y: row.letterY,
      style: { text: row.letter, fontSize: 20, fontWeight: 'bold', fontFamily: FONT, fill: '#000', verticalAlign: 'middle' },
    });
    graphic.push({
      type: 'text', silent: true, x: 67, y: row.top + row.height / 2, rotation: Math.PI / 2,
      style: { text: row.title, fontSize: 12, fontFamily: FONT, fill: '#1a1a1a', align: 'center', verticalAlign: 'middle' },
    });
  });

  graphic.push({
    type: 'text', silent: true, x: 677, y: 1203,
    style: { text: 'State', fontSize: 12, fontFamily: FONT, fill: '#1a1a1a', align: 'center', verticalAlign: 'middle' },
  });
  // frame
  graphic.push({ type: 'line', silent: true, shape: { x1: 8, y1: 10, x2: 1288, y2: 10 }, style: { stroke: '#4a4a4a', lineWidth: 1.2 } });
  graphic.push({ type: 'line', silent: true, shape: { x1: 8, y1: 10, x2: 8, y2: 1325 }, style: { stroke: '#4a4a4a', lineWidth: 1.2 } });
  // caption
  graphic.push({
    type: 'text', silent: true, x: 41, y: 1245,
    style: { text: 'FIGURE 9', fontSize: 14.5, fontFamily: CAPTION_FONT, fill: '#333333', verticalAlign: 'middle' },
  });
  const rich = {
    b: { fontSize: CAPTION_SIZE, fontFamily: CAPTION_FONT, fontWeight: 'bold', fill: '#3a3a3a' },
    i: { fontSize: CAPTION_SIZE, fontFamily: CAPTION_FONT, fontStyle: 'italic', fill: '#4a4a4a' },
  };
  graphic.push({
    type: 'text', silent: true, x: 41, y: 1269,
    style: {
      text: 'Subgroup-specific gene expression. {b|(A)} Expression of subgroup I hub genes in each group. {b|(B)} Expression of subgroup II hub genes in each',
      rich, fontSize: CAPTION_SIZE, fontFamily: CAPTION_FONT, fill: '#4a4a4a', verticalAlign: 'middle',
    },
  });
  graphic.push({
    type: 'text', silent: true, x: 41, y: 1292,
    style: {
      text: 'group. {b|(C)} Expression of subgroup III hub genes in each group. Kruskal\u2013Wallis test, ***{i|P} < 0.001.',
      rich, fontSize: CAPTION_SIZE, fontFamily: CAPTION_FONT, fill: '#4a4a4a', verticalAlign: 'middle',
    },
  });

  return {
    animation: false,
    backgroundColor: '#ffffff',
    textStyle: { fontFamily: FONT },
    grid, xAxis, yAxis, series, graphic,
  };
}

export default function App() {
  const ref = useRef<HTMLDivElement>(null);
  useEffect(() => {
    if (!ref.current) return;
    const chart = echarts.init(ref.current, undefined, { renderer: 'svg' });
    chart.setOption(buildOption() as any);
    return () => chart.dispose();
  }, []);
  return (
    <div
      ref={ref}
      style={{ position: 'absolute', left: 0, top: 0, width: 1288, height: 1325, background: '#fff' }}
    />
  );
}
